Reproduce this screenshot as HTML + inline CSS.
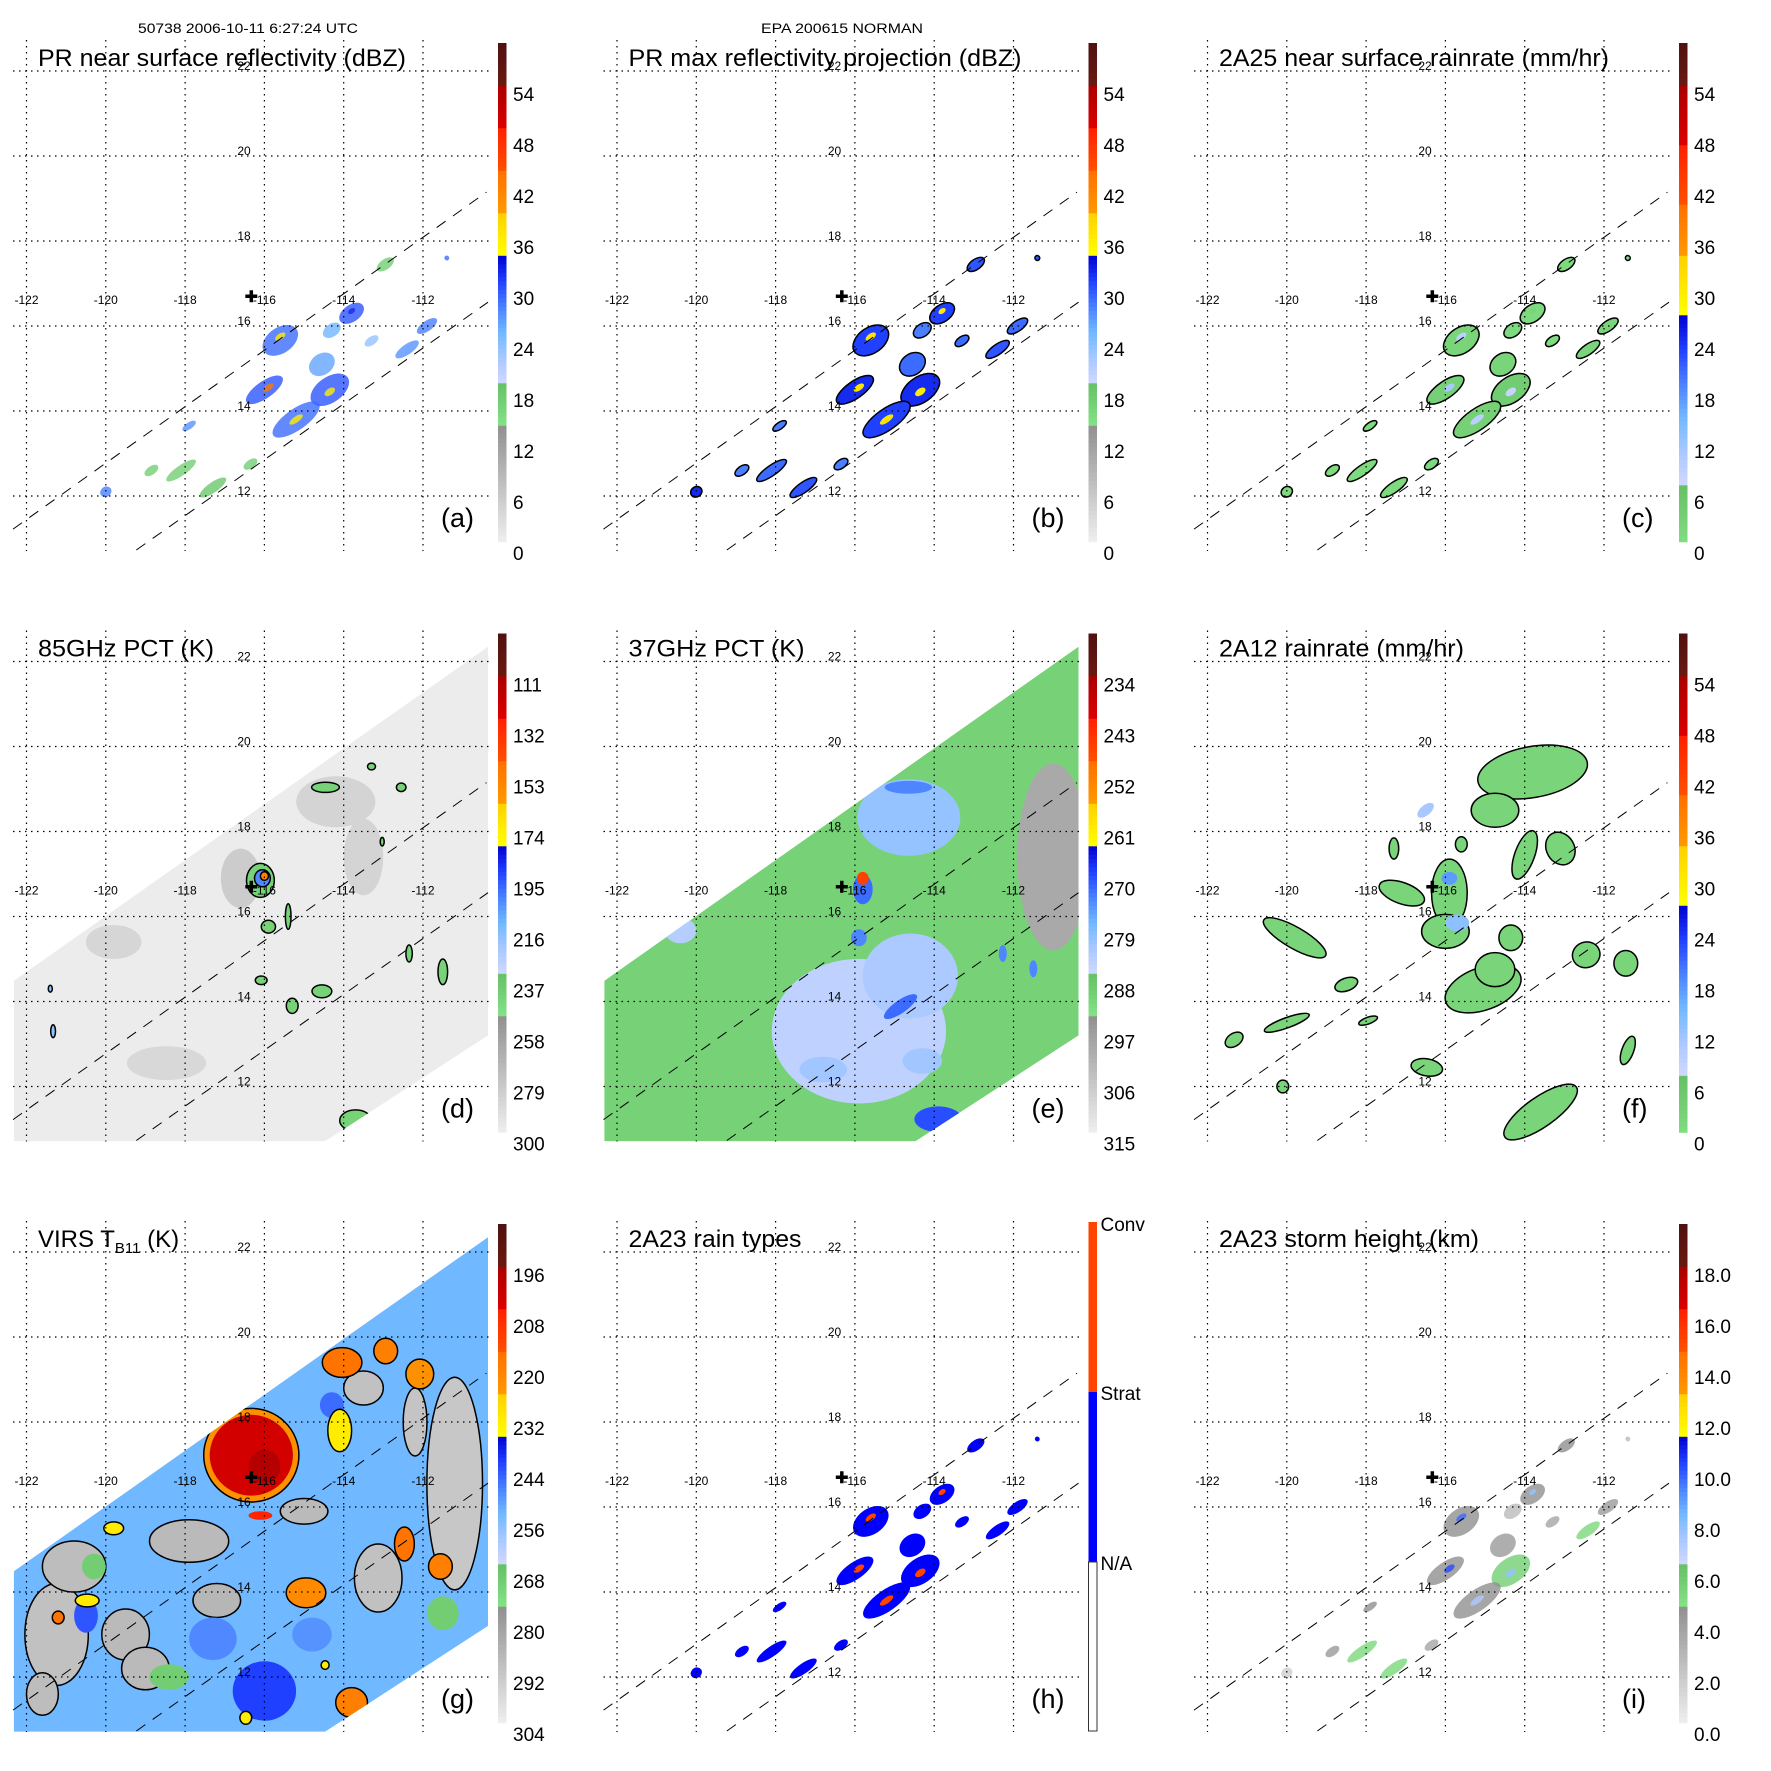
<!DOCTYPE html>
<html><head><meta charset="utf-8"><style>
html,body{margin:0;padding:0;background:#fff;}
svg{display:block;font-family:"Liberation Sans",Arial,sans-serif;}
</style></head><body>
<svg id="fig" width="1771" height="1771" viewBox="0 0 1771 1771" xmlns="http://www.w3.org/2000/svg">
<rect x="0" y="0" width="1771" height="1771" fill="#fff"/>
<text x="248" y="33" font-size="13.5" text-anchor="middle" textLength="220" lengthAdjust="spacingAndGlyphs">50738 2006-10-11 6:27:24 UTC</text>
<text x="842" y="33" font-size="13.5" text-anchor="middle" textLength="162" lengthAdjust="spacingAndGlyphs">EPA 200615 NORMAN</text>
</svg>
<script>
const lonTicks=[-122,-120,-118,-116,-114,-112];
const latTicks=[22,20,18,16,14,12];
const swathLon=[-122.32,-110.36,-110.36,-114.47,-122.32];
const swathLat=[14.49,22.35,13.2,10.71,10.71];
const edgeUpLon=[-122.34,-110.4], edgeUpLat=[11.22,19.15];
const edgeLoLon=[-119.23,-110.36], edgeLoLat=[10.73,16.56];
const siteLon=-116.33, siteLat=16.7;

const rainLon=[-115.6,-116.0,-114.35,-115.2,-114.55,-113.8,-112.95,-111.9,-112.4,-114.3,-118.1,-117.3,-118.85,-120.0,-117.9,-116.35,-113.3,-111.4,-115.6,-115.9,-114.35,-115.2,-113.8];
const rainLat=[15.66,14.5,14.5,13.8,15.1,16.3,17.45,16.0,15.45,15.9,12.6,12.2,12.6,12.1,13.65,12.75,15.65,17.6,15.75,14.55,14.45,13.8,16.35];
const rainRx=[0.5,0.55,0.55,0.7,0.35,0.35,0.25,0.3,0.35,0.25,0.45,0.4,0.2,0.15,0.2,0.2,0.2,0.06,0.15,0.15,0.15,0.2,0.1];
const rainRy=[0.3,0.2,0.3,0.25,0.25,0.2,0.12,0.12,0.12,0.15,0.12,0.12,0.1,0.12,0.08,0.1,0.1,0.06,0.07,0.07,0.08,0.07,0.06];
const reflA=[30,31,31,30,27,31,18,29,28,26,18,19,18,29,28,18,24,30,37,44,37,37,33];
const reflB=[32,33,33,32,30,32,31,30,31,29,30,31,29,33,29,29,30,31,38,38,37,38,37];
const rateC=[3,4,5,4,3,2,2,3,3,2,2,2,2,2,2,2,2,2,10,12,9,10,3];
const typeH=[1,1,1,1,1,1,1,1,1,1,1,1,1,1,1,1,1,1,2,2,2,2,2];
const heightI=[5,5,6,5,4.5,5,5,4.5,5.5,3,5.5,5.5,4.5,2,5,4,4,3,10,10.5,8,7.5,8];

const fLon=[-113.8,-114.75,-115.9,-116.0,-117.1,-115.05,-114.75,-114.35,-114.0,-113.1,-119.8,-118.5,-120.0,-121.33,-116.47,-113.6,-112.45,-111.45,-111.4,-116.5,-117.3,-117.95,-120.1,-115.6,-115.9,-115.7];
const fLat=[19.4,18.5,16.55,15.65,16.55,14.3,14.75,15.5,17.45,17.6,15.5,14.4,13.5,13.1,12.45,11.4,15.1,14.9,12.85,18.5,17.6,13.55,12.0,17.7,16.9,15.85];
const fRx=[1.4,0.6,0.45,0.6,0.6,1.0,0.5,0.3,0.25,0.35,0.9,0.3,0.6,0.25,0.4,1.1,0.35,0.3,0.15,0.25,0.12,0.25,0.15,0.15,0.2,0.3];
const fRy=[0.6,0.4,0.8,0.4,0.25,0.5,0.4,0.3,0.6,0.4,0.25,0.15,0.12,0.15,0.2,0.35,0.3,0.3,0.35,0.12,0.25,0.08,0.15,0.18,0.15,0.2];
const fRot=[-10,0,0,0,20,-20,0,0,20,-30,30,-20,-20,-35,10,-35,-20,0,20,-40,0,-20,0,0,0,0];
const fVal=[3,3,3,3,3,3,3,3,3,3,3,3,3,3,3,3,3,3,3,12,3,3,3,3,18,14];

const dLon=[-114.2,-116.6,-119.8,-118.47,-113.5,-116.1,-114.46,-112.55,-113.3,-115.9,-115.4,-116.08,-114.55,-115.3,-112.35,-111.5,-113.7,-121.33,-121.4,-113.03,-116.05,-116.0];
const dLat=[18.7,16.9,15.4,12.55,17.4,16.85,19.04,19.04,19.53,15.76,16.0,14.5,14.24,13.9,15.13,14.7,11.2,13.3,14.3,17.76,16.9,16.95];
const dRx=[1.0,0.5,0.7,1.0,0.5,0.35,0.35,0.12,0.1,0.18,0.07,0.15,0.25,0.15,0.08,0.12,0.4,0.06,0.05,0.05,0.2,0.1];
const dRy=[0.6,0.7,0.4,0.4,0.9,0.4,0.12,0.1,0.08,0.15,0.3,0.1,0.15,0.18,0.2,0.3,0.25,0.15,0.08,0.1,0.2,0.1];
const dVal=[282,278,283,284,282,240,240,240,240,240,240,240,240,240,240,240,240,215,215,240,200,150];
const dBase=294;

const eLon=[-115.9,-114.6,-120.4,-114.64,-111.0,-114.65,-115.8,-114.85,-113.9,-112.27,-111.5,-115.9,-116.8,-114.3,-115.8];
const eLat=[13.3,14.6,15.67,18.33,17.4,19.04,16.64,13.88,11.23,15.13,14.77,15.5,12.4,12.6,16.9];
const eRx=[2.2,1.2,0.4,1.3,0.9,0.6,0.25,0.5,0.6,0.1,0.1,0.2,0.6,0.5,0.15];
const eRy=[1.7,1.0,0.3,0.9,2.2,0.15,0.35,0.15,0.3,0.2,0.2,0.2,0.3,0.3,0.15];
const eVal=[283,281,282,279,298,272,270,270,268,272,272,272,280,280,245];
const eBase=289;

const gLon=[-111.2,-121.24,-117.9,-113.13,-119.5,-113.5,-120.8,-119.0,-117.2,-121.6,-112.2,-115.0,-111.5,-118.4,-120.3,-116.0,-120.5,-114.3,-117.3,-114.8,-116.33,-116.33,-116.0,-114.04,-112.94,-112.08,-112.47,-111.56,-114.95,-121.2,-113.8,-116.1,-114.1,-120.47,-119.8,-116.47,-114.47];
const gLat=[16.55,13.0,15.2,14.33,13.0,18.8,14.6,12.2,13.8,11.6,18.0,15.9,13.5,12.0,14.6,11.67,13.44,18.4,12.9,13.0,17.22,17.22,16.95,19.4,19.67,19.13,15.13,14.6,13.98,13.4,11.4,15.8,17.8,13.8,15.5,11.04,12.28];
const gRx=[0.7,0.8,1.0,0.6,0.6,0.5,0.8,0.6,0.6,0.4,0.3,0.6,0.4,0.5,0.3,0.8,0.3,0.3,0.6,0.5,1.2,1.05,0.4,0.5,0.3,0.35,0.25,0.3,0.5,0.15,0.4,0.3,0.3,0.3,0.25,0.15,0.1];
const gRy=[2.5,1.2,0.5,0.8,0.6,0.4,0.6,0.5,0.4,0.5,0.8,0.3,0.4,0.3,0.3,0.7,0.4,0.3,0.5,0.4,1.1,0.95,0.4,0.35,0.3,0.35,0.4,0.3,0.35,0.15,0.35,0.1,0.5,0.15,0.15,0.15,0.1];
const gVal=[290,288,286,288,286,288,287,286,285,287,289,286,268,268,268,240,242,244,247,248,222,202,196,215,218,222,215,218,220,215,218,205,230,230,230,230,230];
const gBase=252;

const cbLabelsA=['0','6','12','18','24','30','36','42','48','54'];
const cbLabelsD=['300','279','258','237','216','195','174','153','132','111'];
const cbLabelsE=['315','306','297','288','279','270','261','252','243','234'];
const cbLabelsG=['304','292','280','268','256','244','232','220','208','196'];
const cbLabelsI=['0.0','2.0','4.0','6.0','8.0','10.0','12.0','14.0','16.0','18.0'];
const cbLabelsH=['Conv','Strat','N/A'];

const NS='http://www.w3.org/2000/svg';
const svg=document.getElementById('fig');
const PW=590.5;
function X(lon){return 26.5+(lon+122)*39.65;}
function Y(lat){return 71+(22-lat)*42.5;}
function mk(tag,attrs,parent){const e=document.createElementNS(NS,tag);for(const k in attrs)e.setAttribute(k,attrs[k]);parent.appendChild(e);return e;}
function hex(c){return [parseInt(c.substr(1,2),16),parseInt(c.substr(3,2),16),parseInt(c.substr(5,2),16)];}
function interp(stops,u){
  if(u<=stops[0][0])return stops[0][1];
  for(let i=0;i<stops.length-1;i++){const a=stops[i],b=stops[i+1];
    if(b[0]>a[0]&&u>=a[0]&&u<=b[0]){const t=(u-a[0])/(b[0]-a[0]);const p=hex(a[1]),q=hex(b[1]);
      return 'rgb('+p.map((v,j)=>Math.round(v+(q[j]-v)*t)).join(',')+')';}}
  return stops[stops.length-1][1];
}
const stopsA=[[0,'#f8f8f8'],[15,'#909090'],[15,'#86e286'],[20,'#66c066'],[20,'#d0d8ff'],[23,'#a8c8ff'],[26,'#70b8ff'],[29,'#4a80ff'],[32,'#2040ff'],[35,'#0000d0'],[35,'#ffff00'],[40,'#ffd000'],[40,'#ff9900'],[45,'#ff7000'],[45,'#ff5000'],[50,'#ff2000'],[50,'#dd0000'],[55,'#aa0000'],[55,'#6a1a10'],[60,'#501010']];
const stopsC=[[0,'#86e286'],[8,'#66c066'],[8,'#d0d8ff'],[12,'#a8c8ff'],[16,'#70b8ff'],[20,'#4a80ff'],[24,'#2040ff'],[28,'#0000d0'],[28,'#ffff00'],[35,'#ffd000'],[35,'#ff9900'],[41,'#ff7000'],[41,'#ff5000'],[48,'#ff2000'],[48,'#dd0000'],[55,'#aa0000'],[55,'#6a1a10'],[60,'#501010']];
function colorA(u){return interp(stopsA,u);}
function colorC(u){return interp(stopsC,u);}

function blob(g,lon,lat,rx,ry,rot,fill,stroke,op){
  const cx=X(lon),cy=Y(lat);
  const e=mk('ellipse',{cx:cx.toFixed(1),cy:cy.toFixed(1),rx:(rx*39.65).toFixed(1),ry:(ry*42.5).toFixed(1),transform:'rotate('+rot+' '+cx.toFixed(1)+' '+cy.toFixed(1)+')',fill:fill},g);
  if(stroke){e.setAttribute('stroke','#000');e.setAttribute('stroke-width','1.5');}
  if(op)e.setAttribute('fill-opacity',op);
  return e;
}

const panels=[
 {id:'a',col:0,row:0,title:'PR near surface reflectivity (dBZ)',tl:368,cb:'A',labels:cbLabelsA},
 {id:'b',col:1,row:0,title:'PR max reflectivity projection (dBZ)',tl:393,cb:'A',labels:cbLabelsA},
 {id:'c',col:2,row:0,title:'2A25 near surface rainrate (mm/hr)',tl:390,cb:'C',labels:cbLabelsA},
 {id:'d',col:0,row:1,title:'85GHz PCT (K)',tl:176,cb:'A',labels:cbLabelsD},
 {id:'e',col:1,row:1,title:'37GHz PCT (K)',tl:176,cb:'A',labels:cbLabelsE},
 {id:'f',col:2,row:1,title:'2A12 rainrate (mm/hr)',tl:245,cb:'C',labels:cbLabelsA},
 {id:'g',col:0,row:2,title:'VIRS',tl:0,cb:'A',labels:cbLabelsG},
 {id:'h',col:1,row:2,title:'2A23 rain types',tl:173,cb:'H',labels:cbLabelsH},
 {id:'i',col:2,row:2,title:'2A23 storm height (km)',tl:260,cb:'A',labels:cbLabelsI}
];

panels.forEach(p=>{
  const g=mk('g',{transform:'translate('+(p.col*PW).toFixed(1)+','+(p.row*PW).toFixed(1)+')'},svg);
  
  
  const swPts=swathLon.map((l,i)=>X(l).toFixed(1)+','+Y(swathLat[i]).toFixed(1)).join(' ');
  const clip=mk('clipPath',{id:'clip-'+p.id},g);
  mk('polygon',{points:swPts},clip);
  const data=mk('g',{},g);
  
  
  if(p.id==='d'||p.id==='e'||p.id==='g'){
    data.setAttribute('clip-path','url(#clip-'+p.id+')');
    let base,lon,lat,rx,ry,val,uf;
    if(p.id==='d'){base=dBase;lon=dLon;lat=dLat;rx=dRx;ry=dRy;val=dVal;uf=v=>(300-v)*6/21;}
    if(p.id==='e'){base=eBase;lon=eLon;lat=eLat;rx=eRx;ry=eRy;val=eVal;uf=v=>(315-v)*6/9;}
    if(p.id==='g'){base=gBase;lon=gLon;lat=gLat;rx=gRx;ry=gRy;val=gVal;uf=v=>(304-v)/2;}
    const bg=mk('polygon',{points:swPts,fill:colorA(uf(base))},data);
    
    
    lon.forEach((l,i)=>{
      const u=uf(val[i]);
      const rot=(p.id==='e'&&i===7)?-35:0;
      const stroke=(p.id==='d'&&val[i]<=245)||(p.id==='g'&&(val[i]>=284||val[i]<=232&&val[i]>=214));
      const e=blob(data,l,lat[i],rx[i],ry[i],rot,colorA(u),stroke);
      
      
    });
  } else if(p.id==='f'){
    fLon.forEach((l,i)=>{
      const e=blob(data,l,fLat[i],fRx[i],fRy[i],fRot[i],colorC(fVal[i]),fVal[i]<8);
      
      
    });
  } else {
    rainLon.forEach((l,i)=>{
      let fill,stroke=false,op=null;
      if(p.id==='a'){fill=colorA(reflA[i]);op='0.8';}
      if(p.id==='b'){fill=colorA(reflB[i]);stroke=i<18;}
      if(p.id==='c'){fill=colorC(rateC[i]);stroke=i<18;}
      if(p.id==='h'){fill=typeH[i]===2?'#ff4400':(typeH[i]===1?'#0000ff':'#ffffff');}
      if(p.id==='i'){fill=colorA(heightI[i]*3);op='0.8';}
      const e=blob(data,l,rainLat[i],rainRx[i],rainRy[i],-35,fill,stroke,op);
      
      
    });
  }
  const grid=mk('g',{stroke:'#000','stroke-width':'1.2','stroke-dasharray':'1.5,4.5',fill:'none'},g);
  
  
  lonTicks.forEach(t=>{mk('line',{x1:X(t),x2:X(t),y1:40,y2:551},grid);});
  latTicks.forEach(t=>{mk('line',{x1:13,x2:490,y1:Y(t),y2:Y(t)},grid);});
  const ed=mk('g',{stroke:'#000','stroke-width':'1','stroke-dasharray':'11,9',fill:'none'},g);
  
  
  mk('line',{x1:X(edgeUpLon[0]),y1:Y(edgeUpLat[0]),x2:X(edgeUpLon[1]),y2:Y(edgeUpLat[1])},ed);
  mk('line',{x1:X(edgeLoLon[0]),y1:Y(edgeLoLat[0]),x2:X(edgeLoLon[1]),y2:Y(edgeLoLat[1])},ed);
  lonTicks.forEach(t=>{
    const tx=mk('text',{x:X(t),y:304,'font-size':'12','text-anchor':'middle'},g);
    tx.textContent=String(t);
    
    
  });
  latTicks.forEach(t=>{
    const tx=mk('text',{x:244,y:Y(t)-1,'font-size':'12','text-anchor':'middle'},g);
    tx.textContent=String(t);
    
    
  });
  const cx=X(siteLon),cy=Y(siteLat);
  const cr=mk('path',{d:'M'+(cx-6)+' '+cy+'H'+(cx+6)+'M'+cx+' '+(cy-6)+'V'+(cy+6),stroke:'#000','stroke-width':'3.5'},g);
  
  
  const tt=mk('text',{x:38,y:66,'font-size':'24'},g);
  
  
  if(p.id==='g'){
    tt.textContent='VIRS T';
    const sb=mk('tspan',{'font-size':'15',dy:'6'},tt); sb.textContent='B11';
    const rest=mk('tspan',{dy:'-6'},tt); rest.textContent=' (K)';
  } else {
    tt.textContent=p.title;
    tt.setAttribute('textLength',p.tl);
    tt.setAttribute('lengthAdjust','spacingAndGlyphs');
  }
  const lt=mk('text',{x:441,y:527,'font-size':'27'},g);
  lt.textContent='('+p.id+')';
  
  
  const cb=mk('g',{},g);
  
  
  if(p.cb==='H'){
    mk('rect',{x:498,y:41,width:8.5,height:170,fill:'#ff4400'},cb);
    mk('rect',{x:498,y:211,width:8.5,height:170,fill:'#0000ff'},cb);
    mk('rect',{x:498,y:381,width:8.5,height:169,fill:'#fff',stroke:'#333','stroke-width':'1'},cb);
    [43,212,382].forEach((yy,i)=>{
      const tx=mk('text',{x:510,y:yy+7,'font-size':'19'},cb);
      tx.textContent=cbLabelsH[i];
      
      
    });
  } else {
    const cf=p.cb==='C'?colorC:colorA;
    for(let u=1;u<60;u+=0.5){
      const y0=553-(u+0.5)*8.5, y1=553-u*8.5;
      mk('rect',{x:498,y:Math.max(40,y0).toFixed(2),width:8.5,height:(Math.min(542,y1)-Math.max(40,y0)+0.3).toFixed(2),fill:cf(u+0.25)},cb);
    }
    p.labels.forEach((lab,i)=>{
      const tx=mk('text',{x:513,y:553-i*51+7,'font-size':'19'},cb);
      tx.textContent=lab;
      
      
    });
  }
});
</script>
</body></html>
